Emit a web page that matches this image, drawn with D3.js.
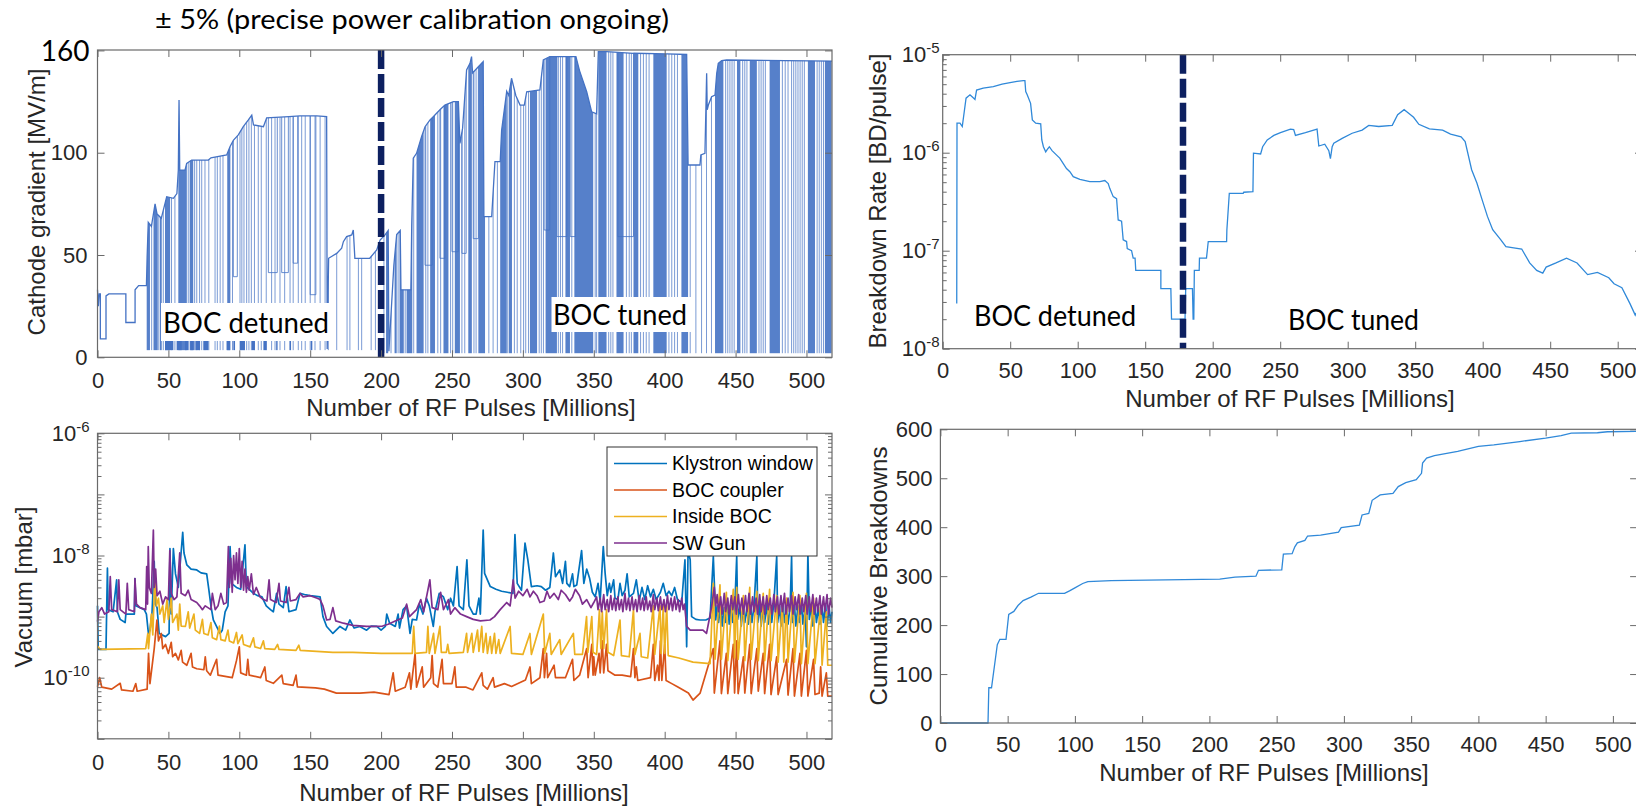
<!DOCTYPE html>
<html><head><meta charset="utf-8">
<script src="https://cdn.jsdelivr.net/npm/d3@7"></script>
<style>body{margin:0;background:#fff}svg{display:block}</style>
</head><body>
<script>
// ===================== DATA =====================
const pulseTicks = [0,50,100,150,200,250,300,350,400,450,500];
const gradTickValues = [0,50,100,150];
const gradTickLabels = ["0","50","100","160"];
const bdTickValues = [1e-8,1e-7,1e-6,1e-5];
const vacMajorTicks = [1e-11,1e-10,1e-9,1e-8,1e-7,1e-6];
const vacLabelTicks = [1e-10,1e-8,1e-6];
const cumTickValues = [0,100,200,300,400,500,600];
const seriesNames = ["Klystron window","BOC coupler","Inside BOC","SW Gun"];
const regimeMarkA = 200, regimeMarkB = 178;

// Top-left: cathode gradient envelope [pulses, MV/m]
const gradEnvelope = [[0,33],[0.6,25],[1.2,31],[2,31],[2,9],[6,9],[6,30],[8,31],[20,31],[20,17],[26.5,17],[26.5,33],[29,35],[34.5,35],
[35,49],[35.8,66],[38,64],[40.6,75],[42,70],[45,68],[48.8,78.5],[53.5,77.7],[56,80],[57,91.5],[57.5,125.8],[58,91.5],[61.7,91.5],[62.9,94.8],[66.4,96.4],[78.2,96.4],[80,97.5],[91.1,98.9],[93.5,103],[95.8,106],[99.3,108.7],[102.8,112.7],[106.4,116],[108.8,118.4],[110,113.6],[117,112.7],[119.3,117],[135,117.6],[142.8,118],[154.6,118],[161.6,117.6],[162,4],[163,48.4],[168.7,50.8],[172.2,53.3],[173.4,56.5],[175.7,59],[179.3,59.8],[180.4,62.2],[181.5,48.4],[192,48.4],[196.9,52.5],[199.3,57.3],[202.8,59.8],[205,62],[205.5,3],[209,45],[211,60],[213.5,62],[214,33],[221,33],[221.6,64],[222.7,97.3],[225,99.7],[228.6,108],[231,112.7],[234.5,116],[236.8,117.6],[241.5,121],[245,123.3],[251,125],[254.5,125],[255.6,104.6],[257.5,112],[260.3,140.4],[262.7,143.7],[263.8,147],[264.5,139],[268.6,142],[272,144.5],[272.5,68.8],[278,68.8],[280.3,95.6],[284,95.6],[285,111],[288.6,130],[290,128],[292,136.4],[295,128],[298,123.3],[301,123.3],[302.7,129.8],[312,130.7],[314.4,145.3],[319,147],[337.4,147],[340,140],[345,129.8],[348.5,120],[352,119],[353.2,149.4],[359,149.4],[377.9,148.6],[401.4,148.3],[415.5,148],[416.5,94],[424.9,94],[425.5,98.9],[428.4,99.7],[429.6,138.8],[430,121],[430.8,123.3],[433.1,127.4],[435.5,128.2],[436.7,138.8],[437.8,143.7],[440.2,145],[443.7,145.3],[518,144.8]];
// dense breakdown bands [from, to, floor]
const gradBands = [[34.7,37,3.5],[39.5,42.5,3.5],[44,45.3,3.5],[47.6,51.2,3.5],[57,63,3.5],[65,67.5,3.5],[91.5,93.7,3.5],
[203.5,205,2],[209.5,211,2],[213,216,2],[218,222,2],[225,230,2],[234.6,238,2],[244,247.5,2],[252,255.6,2],[261.5,264,2],[268.6,273.3,2],[284,288.6,2],[290,292.3,2],[305,310,2],[316,324,2],[330,333.2,2],[336.3,349.6,2],[353.2,359,2],[366,371,2],[378,381.4,2],[392,401.4,2],[411.8,416.5,2],[435.5,441.4,2],[451,453.4,2],[460,465,2],[474,481.3,2],[501,506,2],[513,517.7,2]];
// single breakdown drops [pulses, floor]
const gradDrops = [[38.2,3.5],[43.2,3.5],[46.4,3.5],[52.2,3.5],[54.6,3.5],[64,3.5],[68.5,3.5],[70,3.5],[72,3.5],[73.5,3.5],[75.8,3.5],[78.5,3.5],[82.9,3.5],[84.5,3.5],[86.5,3.5],[88.5,3.5],[95.2,3.5],[100.5,3.5],[101.8,3.5],[103.3,3.5],[105.2,3.5],[106.8,3.5],[108.5,3.5],[110.7,3.5],[113.4,3.5],[115.5,3.5],[119,3.5],[122.8,3.5],[125.2,3.5],[128.7,3.5],[132,3.5],[135.8,3.5],[138,3.5],[141.6,3.5],[144,3.5],[146.5,3.5],[150,3.5],[153.4,3.5],[157,3.5],[160.5,3.5],[162.8,3.5],[168.7,3.5],[176,3.5],[178,3.5],[184,3.5],[186.3,3.5],[193,3.5],[196,3.5],
[202,2],[207,2],[212,2],[217,2],[223,2],[231.5,2],[233,2],[240,2],[242,2],[249,2],[250.5,2],[257,2],[259,2],[265.5,2],[267,2],[276,2],[279,2],[282,2],[289,2],[294,2],[296,2],[298.5,2],[300.5,2],[302,2],[304,2],[311.5,2],[313,2],[314.5,2],[325,2],[326.5,2],[328,2],[334.5,2],[351,2],[352,2],[360.5,2],[362,2],[363.5,2],[373,2],[375,2],[376.5,2],[383,2],[385,2],[387,2],[389,2],[403,2],[405,2],[407,2],[409,2],[418,2],[422,2],[426,2],[429.5,2],[433,2],[443,2],[444.5,2],[446,2],[447.5,2],[449,2],[455,2],[456.5,2],[458,2],[466.5,2],[468,2],[469.5,2],[471,2],[483,2],[485,2],[487,2],[489.5,2],[491,2],[492.5,2],[494,2],[495.5,2],[497,2],[498.5,2],[507.5,2],[509,2],[510.5,2],[512,2]];
// reduced-gradient plateaus [from, to, level]
const gradDips = [[95.8,98.6,39.4],[120.5,126.8,41.4],[129.9,134.6,41.4],[138,141.2,46],[150,154,30.6],[231,236,45],[241.5,245,48.4],[250,254.5,51.6],[257,260,50.8],[265,268.6,58],[315,319,62.2],[324,331,59],[333.4,337,59],[367,378,59]];
// low-level jitter blocks [from, to] between gradLowRange
const gradLowBlocks = [[47.6,53.5],[55.8,59.4],[61.7,64],[65.5,68],[69,72.3],[74.6,78.2],[91,93.5],[95.8,97],[100.5,104],[108.8,111],[117,119.3],[126,127],[135.5,136.5],[150.5,151.5]];
const gradLowRange = [3.5,8.5];

// Top-right: breakdown rate [pulses, BD/pulse]
const bdRate = [[10.4,2.9e-8],[10.6,2.0e-6],[12.8,2.0e-6],[14.5,1.85e-6],[17.3,3.6e-6],[20.2,3.9e-6],[22,3.7e-6],[23.9,3.5e-6],[25.1,4.36e-6],[30,4.55e-6],[37.5,4.72e-6],[44,5.0e-6],[49.9,5.19e-6],[55,5.35e-6],[59.7,5.43e-6],[60.9,5.43e-6],[61.5,4.2e-6],[62.6,3.9e-6],[65.1,3.19e-6],[66.4,2.16e-6],[68.9,2.0e-6],[72.6,1.97e-6],[73.4,1.35e-6],[74.6,1.15e-6],[76.3,1.02e-6],[77.5,1.08e-6],[79,1.15e-6],[81,1.05e-6],[84.2,9.5e-7],[86.7,8.8e-7],[89.2,7.8e-7],[91.7,6.9e-7],[94.2,6.4e-7],[96.7,5.7e-7],[101.6,5.35e-7],[109,5.06e-7],[116.4,5.06e-7],[120.1,5.2e-7],[122.6,4.85e-7],[123.8,4.3e-7],[126.3,3.56e-7],[128.8,3.4e-7],[130,2.06e-7],[132.5,2.0e-7],[133.7,1.29e-7],[136.2,1.24e-7],[136.7,1.05e-7],[139.9,1.0e-7],[141.1,8.4e-8],[142.5,8.4e-8],[143,6.3e-8],[161.6,6.3e-8],[161.6,4.1e-8],[169,4.1e-8],[169.5,2.0e-8],[179.5,2.0e-8],[180,4.1e-8],[185,4.1e-8],[185.5,2.0e-8],[186,2.0e-8],[186.4,6.3e-8],[190,6.3e-8],[190.2,8.4e-8],[195.4,8.4e-8],[196.7,1.24e-7],[210.3,1.24e-7],[210.5,1.63e-7],[212.3,3.85e-7],[222.6,3.85e-7],[223,3.95e-7],[229.8,4.0e-7],[230.2,9.9e-7],[235.5,9.7e-7],[237,1.15e-6],[240.4,1.35e-6],[245.3,1.5e-6],[250.2,1.6e-6],[257.6,1.74e-6],[260,1.72e-6],[261.3,1.5e-6],[268.7,1.6e-6],[277.3,1.74e-6],[278.6,1.17e-6],[283,1.22e-6],[286,1.05e-6],[287.2,8.7e-7],[288.5,1.15e-6],[289.7,1.25e-6],[295.9,1.4e-6],[303.3,1.58e-6],[310.7,1.7e-6],[315.6,1.9e-6],[323,1.85e-6],[333,1.9e-6],[337,2.44e-6],[341.8,2.75e-6],[344,2.6e-6],[348.8,2.3e-6],[352.7,1.95e-6],[360.5,1.75e-6],[370.3,1.7e-6],[376.2,1.55e-6],[384,1.45e-6],[387,1.3e-6],[391.8,6.7e-7],[395.7,4.9e-7],[399.6,3.3e-7],[403.5,2.24e-7],[407.4,1.64e-7],[413.3,1.3e-7],[417.2,1.1e-7],[423,1.07e-7],[428.9,1.04e-7],[434.8,7.5e-8],[440,6.3e-8],[444.5,5.9e-8],[447,6.8e-8],[454.3,7.5e-8],[462.1,8.4e-8],[469.9,7.5e-8],[477.7,5.7e-8],[485,6e-8],[493.4,5.3e-8],[497.3,4.6e-8],[503.1,4.2e-8],[509,2.9e-8],[513,2.2e-8],[518.8,3.2e-8]];

// Bottom-left: vacuum [pulses, mbar]
const klystronWindow = [[0,1.5e-9],[0.5,2.9e-10],[6,2.9e-10],[6.5,1.4e-9],[7,6.2e-9],[7.5,1.3e-9],[11,1.2e-9],[13.5,4e-9],[14,1.2e-9],[16,9e-10],[19.5,8e-10],[20,1.1e-9],[26,1.1e-9],[26.4,4.2e-9],[27,1.5e-9],[33,1.3e-9],[34.5,1.1e-9],[35.9,5.3e-10],[37,6e-10],[38.5,1.2e-9],[40,8e-9],[40.8,1.6e-9],[42,1.4e-9],[43.5,5.3e-10],[48,4.7e-10],[50.5,5.3e-10],[51.1,1.3e-8],[52,1.1e-9],[53.5,1.3e-8],[55,5e-9],[57,3e-9],[60.1,2.4e-8],[61,1.1e-8],[63,7e-9],[66,6e-9],[70,5.8e-9],[73,5.2e-9],[77,5e-9],[78.5,2.8e-9],[80,1.5e-9],[81.7,8.8e-10],[86.4,5.3e-10],[88,6e-10],[90,1.2e-9],[92,1.5e-9],[93.5,1.4e-8],[94.5,3.5e-9],[98,3e-9],[101,2.8e-9],[104,1.5e-8],[105,3.1e-9],[110,2.4e-9],[113,2.2e-9],[116,2.1e-9],[119,1.5e-9],[122,1.3e-9],[124,1.2e-9],[126.3,2.4e-9],[128,1.6e-9],[131,1.4e-9],[133,3.1e-9],[135,1.2e-9],[140,1.3e-9],[142.8,2.4e-9],[146,2.3e-9],[150,2.2e-9],[157,2.1e-9],[159,1e-9],[161.6,6.9e-10],[166,5.3e-10],[171,6.9e-10],[175,6e-10],[178,8.8e-10],[181,6.5e-10],[185,6.9e-10],[189.8,6e-10],[193,7e-10],[197,6.9e-10],[200,6e-10],[203,6.9e-10],[204,1.1e-9],[206,7.8e-10],[210,6.9e-10],[212,1.1e-9],[213,6.5e-10],[215.5,1.3e-9],[218,1.5e-9],[220.4,5.3e-10],[222,9e-10],[225,8.8e-10],[227,1.6e-9],[229.5,1.1e-9],[232,2e-9],[234,1.5e-9],[236.8,6.9e-10],[238,1.2e-9],[241,2.4e-9],[244,2.1e-9],[247,1.3e-9],[249,2e-9],[251,1.5e-9],[253.6,6.6e-9],[255,1.5e-9],[258,1.3e-9],[260.5,8.5e-9],[262,1.5e-9],[265,1.1e-9],[267,1.1e-9],[269,2.0e-9],[270,1.1e-9],[272,2.6e-8],[273,5.1e-9],[277,3.1e-9],[281,2.8e-9],[285,2.6e-9],[289,2.5e-9],[293,2.4e-9],[294.4,2.2e-8],[296,3.5e-9],[299,2.7e-9],[301.5,1.6e-8],[303.5,8.5e-9],[306,3.1e-9],[310,3.2e-9],[313,3.1e-9],[316,2.7e-9],[319,3e-9],[321.5,1.1e-8],[323,4.5e-9],[326,5.8e-9],[328,3.5e-9],[330,8e-9],[331,3.5e-9],[333,3.1e-9],[335,5e-9],[336,3.1e-9],[338,3.3e-9],[341.4,1.2e-8],[343,3.5e-9],[345,6e-9],[347,4.3e-9],[349,2.5e-9],[351,2.1e-9],[353,3.5e-9],[354.5,1.8e-9],[356.7,1.4e-8],[358,5.1e-9],[359.5,2.2e-9],[361,3.5e-9],[362,2.5e-9],[364,4e-9],[365,2e-9],[367,1.9e-9],[368.5,3.5e-9],[370,2.2e-9],[372,2.7e-9],[373.5,5e-9],[375,2.1e-9],[378,2.4e-9],[380,4e-9],[382,1.8e-9],[384,3e-9],[386,1.9e-9],[388,3.2e-9],[390,2.1e-9],[392,2.8e-9],[394,1.9e-9],[397,2.5e-9],[399,3.5e-9],[401,2.2e-9],[403,2.6e-9],[405,2.2e-9],[407,3e-9],[409,1.9e-9],[412,1.7e-9],[414.3,8.5e-9],[415.5,3.2e-10],[416.5,1.2e-8],[418,8.5e-9],[419,1e-9],[422,9e-10],[425,8.8e-10],[429,8.8e-10],[432,9.5e-10],[434.3,9.6e-9],[436,8.8e-10],
[437,1.5e-9],[438,8e-10],[439.5,1.6e-9],[440.5,7e-10],[442,1.4e-9],[443,8e-10],[444.5,1.7e-9],[445.5,7.5e-10],[447,1.5e-9],[448,8e-10],[449.5,1.6e-9],[450.8,9.6e-9],[451.5,9e-10],[453,1.5e-9],[454,7e-10],[455.5,1.6e-9],[456.5,8e-10],[458,1.4e-9],[459,7.5e-10],[460.5,1.7e-9],[461.5,8e-10],[463,1.5e-9],[465,9.6e-9],[465.7,8e-10],[467,1.6e-9],[468,7e-10],[469.5,1.5e-9],[470.5,8e-10],[472,1.6e-9],[473,7.5e-10],[474.5,1.4e-9],[475.5,8e-10],[477,1.7e-9],[479,9.6e-9],[479.7,8e-10],[481,1.5e-9],[482,7e-10],[483.5,1.6e-9],[484.5,8e-10],[486,1.4e-9],[487,7.5e-10],[488.5,1.5e-9],[489.5,9.6e-9],[490.2,8e-10],[491.5,1.6e-9],[492.5,7e-10],[494,1.5e-9],[495,8e-10],[496.5,1.6e-9],[497.5,7.5e-10],[499,1.4e-9],[500,3.2e-10],[501,1.1e-8],[502,9e-10],[503.5,1.5e-9],[504.5,7e-10],[506,1.6e-9],[507,8e-10],[508.5,1.4e-9],[509.5,7.5e-10],[511,1.5e-9],[512,8e-10],[513.5,1.6e-9],[514.5,7e-10],[516,1.4e-9],[517,8e-10],[518,1.2e-9]];

const bocCoupler = [[0,7.1e-11],[1.5,1.0e-10],[3,7e-11],[10,6.5e-11],[16,8.1e-11],[17,6.3e-11],[25,6e-11],[27,8e-11],[28,6e-11],[35,6.5e-11],[36,2.5e-10],[37,8e-11],[40,3e-10],[41.9,8.8e-10],[43,4e-10],[45,5.3e-10],[46,3e-10],[48,3.5e-10],[50,2.5e-10],[52,3.8e-10],[53,2.2e-10],[55,2.5e-10],[57,1.95e-10],[59,2.8e-10],[60,1.8e-10],[63,1.6e-10],[66,2.5e-10],[67,1.5e-10],[70,1.4e-10],[75,1.35e-10],[76,2.2e-10],[77,1.3e-10],[79.6,1.1e-10],[84,2e-10],[85,1.1e-10],[95,1.0e-10],[98,1.9e-10],[100,3.2e-10],[101,1.2e-10],[105,1.1e-10],[106,2e-10],[107,1.1e-10],[115,1.0e-10],[118,1.5e-10],[119,9e-11],[124,8.1e-11],[130,1.1e-10],[131,8e-11],[138,7.5e-11],[140,1.1e-10],[141,7.1e-11],[153.7,6.8e-11],[160,6.5e-11],[168.5,5.6e-11],[185,5.6e-11],[195,5.8e-11],[205.6,5.3e-11],[208.5,1.2e-10],[210,6e-11],[217,7e-11],[220,1.2e-10],[221,6.5e-11],[224,2.5e-10],[225,7e-11],[229,1.5e-10],[230,7e-11],[235,1.0e-10],[236,2.3e-10],[237,8e-11],[240,7e-11],[243,2e-10],[244,8e-11],[250,8e-11],[252,1.5e-10],[253,7e-11],[260,7e-11],[264.8,6.3e-11],[271,1.2e-10],[272,7.5e-11],[275,6.5e-11],[279,1.0e-10],[280,7e-11],[287,8e-11],[292,7.2e-11],[301.8,9.2e-11],[305,1.5e-10],[306,8e-11],[312,1.0e-10],[314.4,3e-10],[315.2,1.0e-10],[316.7,2.5e-10],[317.5,1.0e-10],[322,1.6e-10],[323,1.0e-10],[330,1.0e-10],[335,2e-10],[336,9e-11],[340,1.1e-10],[345,3e-10],[346,1e-10],[348.6,3.5e-10],[349.5,1.1e-10],[350,2.2e-10],[351,1.1e-10],[353.7,2.5e-10],[354.5,1.2e-10],[356,4e-10],[357,1.2e-10],[359,3.5e-10],[360,1.3e-10],[365,1.1e-10],[370,1.1e-10],[376,1.04e-10],[378,3e-10],[379,1.0e-10],[380,1.5e-10],[381,9e-11],[390,1.0e-10],[392,3.5e-10],[393,9e-11],[395,1.6e-10],[396,9e-11],[397,4e-10],[398,9e-11],[400,3.5e-10],[401,9e-11],[405,8e-11],[409,7.1e-11],[416.7,5.6e-11],[420,4.3e-11],[425,5.6e-11],[434.3,3e-10],[435,5.6e-11],[439,4e-10],[440,5.5e-11],[443.5,2.5e-10],[444.5,5.5e-11],[448.4,3.5e-10],[449.3,5.6e-11],[450.8,4e-10],[451.8,5.5e-11],[455.5,2.2e-10],[456.5,5.6e-11],[460,3.5e-10],[461,5.5e-11],[465,3e-10],[466,6e-11],[469.5,2.5e-10],[470.5,5.5e-11],[474,3.5e-10],[475,5.3e-11],[479,2.2e-10],[480,5.3e-11],[486,2e-10],[487,5.2e-11],[490.5,3e-10],[491.5,5e-11],[495.4,2.5e-10],[496.4,5e-11],[500,2.8e-10],[501,5e-11],[505,2e-10],[506,5.3e-11],[509,5.6e-11],[510,1.5e-10],[511,5e-11],[514,1.2e-10],[515,5e-11],[518,5e-11]];

const insideBOC = [[0,3.3e-10],[2,2.9e-10],[34,3.0e-10],[35.5,5.3e-10],[36,3e-10],[38,1.1e-9],[39,5e-10],[40.6,5.8e-9],[41.5,1.5e-9],[43,2.0e-9],[44,1.1e-9],[46,1.5e-9],[47,8e-10],[49,1.9e-9],[50,9e-10],[52,2.0e-9],[53,8e-10],[56,1.1e-9],[57,6e-10],[58,1.6e-9],[59,7e-10],[62,6.9e-10],[64,1.2e-9],[65,6.5e-10],[68,1.1e-9],[69,6e-10],[72,5.3e-10],[74,9e-10],[75,5.3e-10],[78,5e-10],[80,8e-10],[81,4.5e-10],[84,4.2e-10],[86,7e-10],[87,4.2e-10],[90,4e-10],[92,6e-10],[93,4e-10],[96,3.7e-10],[98,5.5e-10],[99,3.6e-10],[102,5e-10],[103,3.5e-10],[107.6,3.2e-10],[110,4.5e-10],[111,3.2e-10],[115,3.0e-10],[117,4e-10],[118,3e-10],[125,2.9e-10],[127,3.5e-10],[128,2.9e-10],[140,2.8e-10],[142,3.4e-10],[143,2.8e-10],[166,2.6e-10],[180,2.6e-10],[200,2.5e-10],[222,2.5e-10],[223,6.9e-10],[224,2.5e-10],[232,2.6e-10],[233,6.9e-10],[234,2.5e-10],[237,5.3e-10],[238,2.5e-10],[241.5,6.9e-10],[242.5,2.6e-10],[246,2.6e-10],[247,3.5e-10],[248,2.5e-10],[258,2.6e-10],[260.3,5.3e-10],[261,2.6e-10],[264,5.3e-10],[265,2.6e-10],[268,6e-10],[269,2.7e-10],[271,6.9e-10],[272,2.6e-10],[274,5.3e-10],[275,2.5e-10],[277,4.7e-10],[278,2.5e-10],[280,5.3e-10],[281,2.5e-10],[283,4.2e-10],[284,2.5e-10],[291,6.9e-10],[292,2.5e-10],[300,2.4e-10],[305,5.3e-10],[306,2.4e-10],[314.4,1.1e-9],[315.4,2.5e-10],[319,5.3e-10],[320,2.4e-10],[326,4.2e-10],[327,2.4e-10],[335.6,5.3e-10],[336.6,2.4e-10],[342,2.4e-10],[344.9,1e-9],[345.8,2.6e-10],[348.6,1e-9],[349.5,2.6e-10],[352,2.4e-10],[354,1.3e-9],[355,3e-10],[356,1.2e-9],[357,3e-10],[359,1.3e-9],[360,2.6e-10],[364,2.3e-10],[368.5,8.8e-10],[369.5,2.3e-10],[375,2.2e-10],[378,1.3e-9],[379,2.4e-10],[382.6,5.3e-10],[383.5,2.2e-10],[388,2.1e-10],[392,1.5e-9],[393,2.4e-10],[396.7,1.5e-9],[397.5,2.5e-10],[399,1.5e-9],[400,2.5e-10],[401.4,1.5e-9],[402.5,2.3e-10],[410,2.1e-10],[420,1.8e-10],[432,1.7e-10],[434.3,3.5e-9],[435.5,2e-10],[439,3.3e-9],[440,2e-10],[443.5,2.5e-9],[444.5,1.9e-10],[448.4,2.8e-9],[449.3,2.1e-10],[450.8,3e-9],[451.8,2e-10],[455.5,2.2e-9],[456.5,1.9e-10],[460,3.0e-9],[461,2e-10],[465,2.6e-9],[466,1.9e-10],[469.5,2.4e-9],[470.5,1.9e-10],[474,2.8e-9],[475,1.9e-10],[479,2.2e-9],[480,1.8e-10],[483,1.6e-9],[484,1.8e-10],[486,2.0e-9],[487,1.8e-10],[490.5,2.5e-9],[491.5,1.8e-10],[495.4,2.2e-9],[496.4,1.7e-10],[500,2.4e-9],[501,1.7e-10],[505,2.0e-9],[506,1.7e-10],[510,1.5e-9],[511,1.6e-10],[514,1.2e-9],[515,1.6e-10],[518,1.6e-10]];

const swGun = [[0,8.3e-10],[1,1.2e-9],[3,1.4e-9],[5,1.1e-9],[8,1.2e-9],[9,4.5e-9],[10,1.3e-9],[14,1.2e-9],[15,4e-9],[16,1.3e-9],[20,1.1e-9],[21,3.5e-9],[22,1.3e-9],[26,1.2e-9],[26.4,4.2e-9],[27.5,1.6e-9],[30,1.4e-9],[34,1.3e-9],[34.7,6.6e-9],[35.3,1.6e-9],[35.8,1.4e-8],[36.5,3e-9],[38,2.4e-9],[39.4,2.6e-8],[40,3e-9],[41,6e-9],[42,2.2e-9],[44,2.6e-9],[46,1.6e-9],[48,2.1e-9],[50,1.9e-9],[51,1.2e-8],[52,2.4e-9],[54,1.9e-9],[56,2.1e-9],[58,1.1e-8],[59,2.4e-9],[62,2.2e-9],[64,2.7e-9],[66,1.9e-9],[70,1.7e-9],[72,1.5e-9],[74,1.3e-9],[76,1.5e-9],[80,1.3e-9],[81,2.4e-9],[83,1.3e-9],[85,1.5e-9],[87,2.4e-9],[89,1.6e-9],[91,1.7e-9],[92.3,1.4e-8],[93,3e-9],[94,9e-9],[95,2.5e-9],[96,1e-8],[97,4e-9],[98,1.1e-8],[99,3.5e-9],[100,1.3e-8],[101,3e-9],[102,8e-9],[103,2.7e-9],[104,6e-9],[105,2.5e-9],[106,4.5e-9],[107,2.7e-9],[108.5,5e-9],[110,2.3e-9],[112,3e-9],[114.6,2.1e-9],[117,1.9e-9],[119.5,1.8e-9],[121,4e-9],[122,1.9e-9],[126,1.7e-9],[128,3.5e-9],[129,1.8e-9],[133,1.7e-9],[135,3e-9],[136,1.8e-9],[140,1.9e-9],[142.8,2.4e-9],[145,2.1e-9],[150,2.2e-9],[155,2.0e-9],[157,1.9e-9],[159,1.5e-9],[161.6,8.8e-10],[164,9e-10],[166,1.4e-9],[168,8.5e-10],[173.4,7.8e-10],[180,7.2e-10],[189.8,6.9e-10],[197,6.9e-10],[201,7e-10],[205,7.5e-10],[210,8.5e-10],[215,9.5e-10],[218,1.6e-9],[220,1e-9],[225,1.3e-9],[228,1.9e-9],[230,1.2e-9],[234.4,4e-9],[236,1.4e-9],[240,1.3e-9],[242,2.5e-9],[244,1.3e-9],[247.5,1.9e-9],[249,1.1e-9],[252,1.4e-9],[256,1.1e-9],[260.3,1.0e-9],[265,9e-10],[270,8.5e-10],[276.8,8.8e-10],[280,1.0e-9],[284,1.3e-9],[288.6,1.7e-9],[291,1.5e-9],[293.2,4e-9],[294.5,2e-9],[297,2.6e-9],[300,2.2e-9],[303,2.8e-9],[305,2.1e-9],[307.4,2.6e-9],[310,2.2e-9],[312,1.7e-9],[315,1.8e-9],[317,2.6e-9],[319,2.0e-9],[322,2.4e-9],[325,1.9e-9],[327,2.7e-9],[330,2.3e-9],[333,1.8e-9],[335,2.1e-9],[337,2.8e-9],[340,2.2e-9],[342,1.6e-9],[345,1.9e-9],[348,1.4e-9],[350,1.7e-9],
[352,2.1e-9],[353,1.3e-9],[354.5,2.0e-9],[355.5,1.2e-9],[357,2.3e-9],[358,1.3e-9],[359.5,1.9e-9],[360.5,1.2e-9],[362,2.2e-9],[363,1.3e-9],[364.5,2.0e-9],[365.5,1.25e-9],[367,2.1e-9],[368,1.3e-9],[369.5,1.9e-9],[370.5,1.2e-9],[372,2.4e-9],[373,1.3e-9],[374.5,2.0e-9],[375.5,1.25e-9],[377,2.1e-9],[378,1.3e-9],[379.5,1.9e-9],[380.5,1.2e-9],[382,2.2e-9],[383,1.3e-9],[384.5,2.0e-9],[385.5,1.25e-9],[387,2.1e-9],[388,1.3e-9],[389.5,1.8e-9],[390.5,1.2e-9],[392,2.3e-9],[393,1.3e-9],[394.5,2.0e-9],[395.5,1.25e-9],[397,2.1e-9],[398,1.3e-9],[399.5,1.9e-9],[400.5,1.2e-9],[402,2.2e-9],[403,1.3e-9],[404.5,2.0e-9],[405.5,1.25e-9],[407,2.1e-9],[408,1.3e-9],[409.5,1.9e-9],[410.5,1.2e-9],[412,2.0e-9],[413,1.3e-9],[414,1.6e-9],
[415.5,6.9e-10],[418,6e-10],[427,6e-10],[429.5,5.3e-10],[431,8e-10],[433,1.4e-9],[435,3e-9],[436,1.5e-9],
[437,2.3e-9],[438,1.2e-9],[439.5,2.1e-9],[440.5,1.1e-9],[442,2.4e-9],[443,1.2e-9],[444.5,2.0e-9],[445.5,1.1e-9],[447,2.2e-9],[448,1.3e-9],[449.5,2.1e-9],[450.5,1.1e-9],[452,2.3e-9],[453,1.2e-9],[454.5,2.0e-9],[455.5,1.1e-9],[457,2.2e-9],[458,1.2e-9],[459.5,2.4e-9],[460.5,1.1e-9],[462,2.1e-9],[463,1.2e-9],[464.5,2.0e-9],[465.5,1.1e-9],[467,2.3e-9],[468,1.2e-9],[469.5,2.1e-9],[470.5,1.1e-9],[472,2.2e-9],[473,1.3e-9],[474.5,2.0e-9],[475.5,1.1e-9],[477,2.3e-9],[478,1.2e-9],[479.5,2.1e-9],[480.5,1.1e-9],[482,2.2e-9],[483,1.2e-9],[484.5,2.4e-9],[485.5,1.1e-9],[487,2.0e-9],[488,1.2e-9],[489.5,2.2e-9],[490.5,1.1e-9],[492,2.1e-9],[493,1.3e-9],[494.5,2.3e-9],[495.5,1.1e-9],[497,2.0e-9],[498,1.2e-9],[499.5,2.2e-9],[500.5,1.1e-9],[502,2.1e-9],[503,1.2e-9],[504.5,2.3e-9],[505.5,1.1e-9],[507,2.0e-9],[508,1.2e-9],[509.5,2.2e-9],[510.5,1.1e-9],[512,2.1e-9],[513,1.2e-9],[514.5,2.3e-9],[515.5,1.1e-9],[517,2.0e-9],[518,1.4e-9]];

// Bottom-right: cumulative breakdowns [pulses, count]
const cumBreakdowns = [[0,0],[35.4,0],[36,72],[38,72],[42.3,160],[44.2,171],[48.8,171],[50.8,222],[54.6,228],[57.7,240],[61.5,250],[67.3,257],[73,265],[92.3,265],[96,270],[100,276],[105.8,285],[109.6,289],[127,291],[180.8,293],[207.7,294],[219,298],[234.6,300],[236.5,312],[253.8,313],[255,345],[261.5,346],[263.5,360],[265.4,368],[271,373],[273,382],[282.7,384],[296,390],[298,399],[311.5,404],[313.5,425],[318.5,428],[321,455],[327,466],[336.5,469],[340.4,483],[346,491],[353.8,497],[357.7,510],[358.5,531],[361.5,541],[367.3,546],[384.6,555],[400,565],[411.5,568],[430.8,575],[450,582],[461.5,587],[469,592],[488.5,593],[496,595],[518,596]];

// ===================== DRAWING =====================
const W=1636,H=806;
const AX="#6a6a6a", TXT="#262626";
const HELV="'Liberation Sans', Arial, Helvetica, sans-serif";
const CAL="Lato, 'Open Sans', sans-serif";
const BLUE_A="#4472c4", BLUE_B="#3089d9", NAVY="#0d2060";
const vacColors=["#0072BD","#D95319","#EDB120","#7E2F8E"];

const svg=d3.select("body").append("svg").attr("width",W).attr("height",H);
svg.append("rect").attr("width",W).attr("height",H).attr("fill","#fff");

// scales
const xA=d3.scaleLinear([0,518],[97.5,832]);
const yA=d3.scaleLinear([0,150.2],[357.3,50]);
const xB=d3.scaleLinear([0,518],[942.7,942.7+1.35*518]);
const yB=d3.scaleLog([1e-8,1e-5],[348.7,54.7]);
const xC=d3.scaleLinear([0,518],[97.5,832]);
const yC=d3.scaleLog([1e-11,1e-6],[738.8,433.3]);
const xD=d3.scaleLinear([0,518],[940.4,940.4+1.345*518]);
const yD=d3.scaleLinear([0,600],[723,429.3]);

function frame(x,y,o){
  const g=svg.append("g");
  const [x0,x1]=x.range(), [yb,yt]=y.range();
  g.append("g").attr("transform",`translate(0,${yb})`)
    .call(d3.axisBottom(x).tickValues(pulseTicks).tickSize(-7).tickPadding(o.xPad).tickFormat(d=>d));
  g.append("g").attr("transform",`translate(0,${yt})`)
    .call(d3.axisTop(x).tickValues(pulseTicks).tickSize(-7).tickFormat(""));
  const left=g.append("g").attr("class","yl").attr("transform",`translate(${x0},0)`)
    .call(d3.axisLeft(y).tickValues(o.yTicks).tickSize(-7).tickPadding(o.yPad).tickFormat(o.yFmt));
  g.append("g").attr("transform",`translate(${x1},0)`)
    .call(d3.axisRight(y).tickValues(o.yTicks).tickSize(-7).tickFormat(""));
  if(o.minor){
    g.append("g").attr("transform",`translate(${x0},0)`).call(d3.axisLeft(y).tickValues(o.minor).tickSize(-4).tickFormat(""));
    g.append("g").attr("transform",`translate(${x1},0)`).call(d3.axisRight(y).tickValues(o.minor).tickSize(-4).tickFormat(""));
  }
  g.selectAll(".domain").remove();
  g.selectAll(".tick line").attr("stroke",AX).attr("stroke-width",1);
  g.selectAll(".tick text").attr("font-family",HELV).attr("font-size",22).attr("fill",TXT);
  g.append("rect").attr("x",x0).attr("y",yt).attr("width",x1-x0).attr("height",yb-yt)
    .attr("fill","none").attr("stroke",AX).attr("stroke-width",1.2);
  if(o.log){
    left.selectAll(".tick").each(function(d){
      const t=d3.select(this).select("text");
      if(o.labelled && !o.labelled.some(v=>Math.abs(v-d)<d*1e-6)){ t.remove(); return; }
      t.text(null);
      t.append("tspan").text("10");
      t.append("tspan").attr("dy",-9).attr("font-size",15).text("-"+Math.abs(Math.round(Math.log10(d))));
    });
  }
  return g;
}
function minorTicks(lo,hi){const a=[];for(let e=lo;e<hi;e++)for(let m=2;m<=9;m++)a.push(m*Math.pow(10,e));return a;}
function yTitle(txt,x,cy){
  svg.append("text").attr("transform",`translate(${x},${cy}) rotate(-90)`).attr("text-anchor","middle")
    .attr("font-family",HELV).attr("font-size",24).attr("fill",TXT).text(txt);
}
function xTitle(txt,cx,y){
  svg.append("text").attr("x",cx).attr("y",y).attr("text-anchor","middle")
    .attr("font-family",HELV).attr("font-size",24).attr("fill",TXT).text(txt);
}

// ---------- Panel A ----------
svg.append("clipPath").attr("id","clipA").append("path")
  .attr("d",d3.area().x(d=>xA(d[0])).y0(yA(0)).y1(d=>yA(d[1]))(gradEnvelope));
const gA=svg.append("g");
const under=gA.append("g").attr("clip-path","url(#clipA)");
under.selectAll("rect").data(gradBands).join("rect")
  .attr("x",d=>xA(d[0])).attr("width",d=>Math.max(1,xA(d[1])-xA(d[0])))
  .attr("y",yA(150)).attr("height",d=>yA(d[2])-yA(150)).attr("fill",BLUE_A).attr("opacity",0.9);
under.selectAll("line").data(gradDrops).join("line")
  .attr("x1",d=>xA(d[0])).attr("x2",d=>xA(d[0])).attr("y1",yA(150)).attr("y2",d=>yA(d[1]))
  .attr("stroke",BLUE_A).attr("stroke-width",1).attr("opacity",0.7);
under.selectAll("path").data(gradDips).join("path")
  .attr("d",d=>`M${xA(d[0])},${yA(150)}V${yA(d[2])}H${xA(d[1])}V${yA(150)}`)
  .attr("fill","none").attr("stroke",BLUE_A).attr("stroke-width",1).attr("opacity",0.8);
gA.selectAll("rect.low").data(gradLowBlocks).join("rect").attr("class","low")
  .attr("x",d=>xA(d[0])).attr("width",d=>xA(d[1])-xA(d[0]))
  .attr("y",yA(gradLowRange[1])).attr("height",yA(gradLowRange[0])-yA(gradLowRange[1])).attr("fill",BLUE_A);
gA.append("path").attr("d",d3.line().x(d=>xA(d[0])).y(d=>yA(d[1]))(gradEnvelope))
  .attr("fill","none").attr("stroke",BLUE_A).attr("stroke-width",1.3);
gA.append("line").attr("x1",xA(regimeMarkA)).attr("x2",xA(regimeMarkA)).attr("y1",yA.range()[1]).attr("y2",yA.range()[0])
  .attr("stroke",NAVY).attr("stroke-width",6.5).attr("stroke-dasharray","19,5");
gA.append("rect").attr("x",161).attr("y",303).attr("width",171).attr("height",38).attr("fill","#fff");
gA.append("text").attr("x",163).attr("y",333).attr("font-family",CAL).attr("font-size",29).attr("fill","#000")
  .attr("textLength",166).attr("lengthAdjust","spacingAndGlyphs").text("BOC detuned");
gA.append("rect").attr("x",551.5).attr("y",297).attr("width",140).attr("height",35).attr("fill","#fff");
gA.append("text").attr("x",553).attr("y",325).attr("font-family",CAL).attr("font-size",29).attr("fill","#000")
  .attr("textLength",134).attr("lengthAdjust","spacingAndGlyphs").text("BOC tuned");
const fA=frame(xA,yA,{yTicks:gradTickValues,yFmt:(d,i)=>gradTickLabels[i],xPad:15,yPad:10});
fA.select(".yl").selectAll(".tick text").filter(d=>d===150)
  .attr("font-family",CAL).attr("font-size",28).attr("fill","#000").attr("x",-8).attr("dy","0.36em");
yTitle("Cathode gradient [MV/m]",45,202);
xTitle("Number of RF Pulses [Millions]",471,416);
svg.append("text").attr("x",155).attr("y",29).attr("font-family",CAL).attr("font-size",27).attr("fill","#000")
  .attr("textLength",514).attr("lengthAdjust","spacingAndGlyphs").text("± 5% (precise power calibration ongoing)");

// ---------- Panel B ----------
svg.append("clipPath").attr("id","clipB").append("rect").attr("x",942.7).attr("y",54.7).attr("width",700).attr("height",294);
const gB=svg.append("g");
gB.append("path").attr("clip-path","url(#clipB)").attr("d",d3.line().x(d=>xB(d[0])).y(d=>yB(d[1]))(bdRate))
  .attr("fill","none").attr("stroke",BLUE_B).attr("stroke-width",1.3);
gB.append("line").attr("x1",xB(regimeMarkB)).attr("x2",xB(regimeMarkB)).attr("y1",yB.range()[1]).attr("y2",yB.range()[0])
  .attr("stroke",NAVY).attr("stroke-width",6.5).attr("stroke-dasharray","19,5");
frame(xB,yB,{yTicks:bdTickValues,yFmt:d=>d,log:true,minor:minorTicks(-8,-5),xPad:14,yPad:3});
gB.append("text").attr("x",974).attr("y",326).attr("font-family",CAL).attr("font-size",29).attr("fill","#000")
  .attr("textLength",162).attr("lengthAdjust","spacingAndGlyphs").text("BOC detuned");
gB.append("text").attr("x",1288).attr("y",330).attr("font-family",CAL).attr("font-size",29).attr("fill","#000")
  .attr("textLength",131).attr("lengthAdjust","spacingAndGlyphs").text("BOC tuned");
yTitle("Breakdown Rate [BD/pulse]",886,201);
xTitle("Number of RF Pulses [Millions]",1290,407);

// ---------- Panel C ----------
const gC=svg.append("g");
const vacSeries=[klystronWindow,bocCoupler,insideBOC,swGun];
const lineC=d3.line().x(d=>xC(d[0])).y(d=>yC(d[1]));
vacSeries.forEach((s,i)=>{
  gC.append("path").attr("d",lineC(s)).attr("fill","none").attr("stroke",vacColors[i]).attr("stroke-width",1.7).attr("stroke-linejoin","round");
});
frame(xC,yC,{yTicks:vacMajorTicks,yFmt:d=>d,log:true,labelled:vacLabelTicks,minor:minorTicks(-11,-6),xPad:16,yPad:8});
const lg=gC.append("g");
lg.append("rect").attr("x",607).attr("y",447).attr("width",210).attr("height",109).attr("fill","#fff").attr("stroke","#333").attr("stroke-width",1);
seriesNames.forEach((n,i)=>{
  const cy=463.5+i*26.5;
  lg.append("line").attr("x1",614).attr("x2",667).attr("y1",cy).attr("y2",cy).attr("stroke",vacColors[i]).attr("stroke-width",1.7);
  lg.append("text").attr("x",672).attr("y",cy).attr("dy","0.35em").attr("font-family",HELV).attr("font-size",19.5).attr("fill","#000").text(n);
});
yTitle("Vacuum [mbar]",32,587);
xTitle("Number of RF Pulses [Millions]",464,801);

// ---------- Panel D ----------
const gD=svg.append("g");
gD.append("path").attr("d",d3.line().x(d=>xD(d[0])).y(d=>yD(d[1]))(cumBreakdowns))
  .attr("fill","none").attr("stroke",BLUE_B).attr("stroke-width",1.3);
frame(xD,yD,{yTicks:cumTickValues,yFmt:d=>d,xPad:13,yPad:8});
yTitle("Cumulative Breakdowns",887,576);
xTitle("Number of RF Pulses [Millions]",1264,781);
</script>
</body></html>
